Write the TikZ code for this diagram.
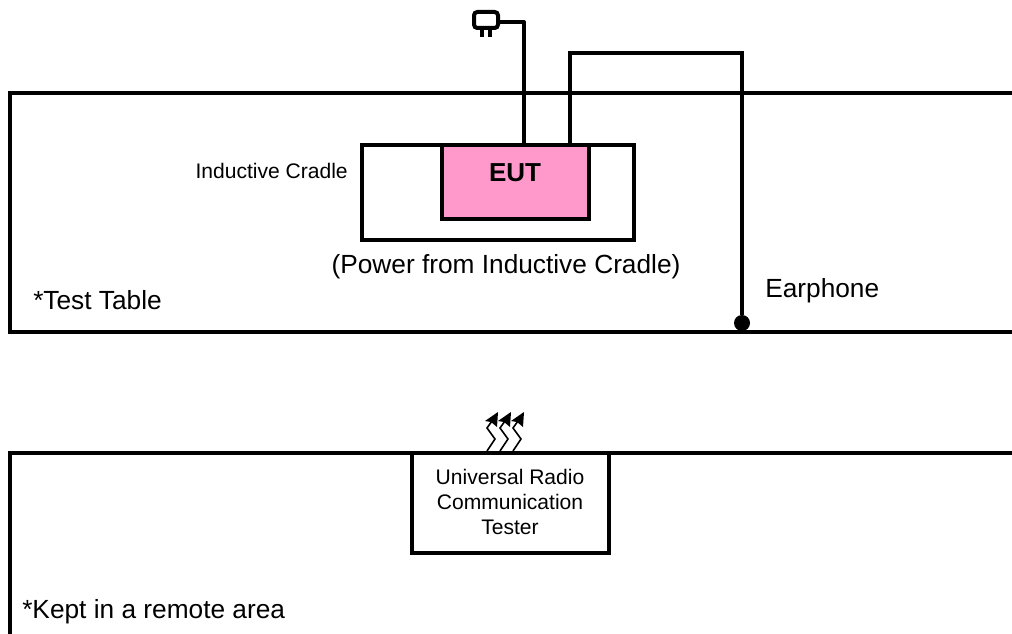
\documentclass[tikz,border=0pt]{standalone}
\usepackage{fontspec}
\setmainfont{Liberation Sans}
\definecolor{eutpink}{HTML}{FF99CC}
\tikzset{thick line/.style={line width=3pt},
	box/.style={draw,thick line,inner sep=0pt,anchor=north west},
	biglabel/.style={font=\fontsize{19.7}{23}\selectfont,inner sep=0pt},
	smalllabel/.style={font=\fontsize{15.8}{18.75}\selectfont,inner sep=0pt,align=center},
	wave/.style={line width=1.2pt}
	}
\begin{document}
\begin{tikzpicture}[x=0.75pt,y=-0.75pt]
	\useasboundingbox (0,0) rectangle (1012,634);
	% tables, open at the picture edge
	\coordinate (tableNE) at (1014,93);
	\coordinate (tableNW) at (10,93);
	\coordinate (tableSW) at (10,332);
	\coordinate (tableSE) at (1014,332);
	\coordinate (remoteNE) at (1014,453);
	\coordinate (remoteNW) at (10,453);
	\coordinate (remoteSW) at (10,636);
	\draw[thick line] (tableNE) -- (tableNW) -- (tableSW) -- (tableSE);
	\draw[thick line] (remoteNE) -- (remoteNW) -- (remoteSW);
	% cradle and EUT
	\node [box,minimum width=204pt,minimum height=71.25pt] (cradle) at (360,143) {};
	\node [box,fill=eutpink,minimum width=110.25pt,minimum height=55.5pt] (eut) at (440,143) {};
	\node [font=\fontsize{19.5}{22}\selectfont\bfseries,inner sep=0pt] (eutlabel) at (515,173) {EUT};
	% plug
	\node [draw,thick line,rounded corners=2.5pt,minimum width=18pt,minimum height=12pt,inner sep=0pt] (plug) at (486,20) {};
	\draw[thick line] (482,29) -- (482,37);
	\draw[thick line] (490,29) -- (490,37);
	\coordinate (plugbend) at (524,22);
	\coordinate (plugend) at (524,144);
	\draw[thick line,line join=round] (plug.east |- plugbend) -- (plugbend) -- (plugend);
	% earphone cable
	\coordinate (eutout) at (570,144);
	\coordinate (bendA) at (570,53);
	\node [circle,fill=black,minimum size=12pt,inner sep=0pt] (earphone) at (742,323) {};
	\coordinate (bendB) at (742,53);
	\draw[thick line] (eutout) -- (bendA) -- (bendB) -- (earphone);
	% tester
	\node [box,minimum width=147.75pt,minimum height=75pt] (tester) at (410,451) {};
	\node [smalllabel] (testerlabel) at (510,502) {Universal Radio\\Communication\\Tester};
	% waves
	\foreach \dx/\name in {0/a,13/b,26/c}{
		\coordinate (wave\name) at (487+\dx,451);
		\draw[wave] (wave\name) -- ++(8,-12) -- ++(-8,-11) -- ++(5,-7);
		\fill (wave\name) ++(-2,-30) -- ++(13,-9) -- ++(-1,15) -- ++(-6,-5) -- cycle;
	}
	% labels
	\node [smalllabel,anchor=east] (cradlelabel) at (348,171) {Inductive Cradle};
	\node [biglabel] (powerlabel) at (506,267) {(Power from Inductive Cradle)};
	\node [biglabel,anchor=west] (tablelabel) at (33,300) {*Test Table};
	\node [biglabel,anchor=west] (earphonelabel) at (765,291) {Earphone};
	\node [biglabel,anchor=west] (remotelabel) at (22,612) {*Kept in a remote area};
\end{tikzpicture}
\end{document}
